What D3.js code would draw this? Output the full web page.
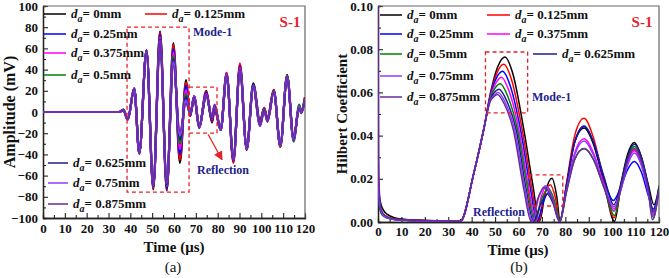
<!DOCTYPE html>
<html lang="en">
<head>
<meta charset="utf-8">
<title>S-1 amplitude and Hilbert coefficient</title>
<script src="https://cdn.jsdelivr.net/npm/d3@7"></script>
<style>
  body { margin: 0; background: #fff; }
  text { font-family: "Liberation Serif", "Times New Roman", serif; }
</style>
</head>
<body>
<script>
// size
var w = 669, h = 278;

// series names and colours
var depths = ["0mm", "0.125mm", "0.25mm", "0.375mm", "0.5mm", "0.625mm", "0.75mm", "0.875mm"];
var colors = ["#000000", "#ff0000", "#0000ff", "#ff00ff", "#008000", "#1c1c8c", "#8c3cff", "#6a2a9e"];

// (a) time samples (us) and amplitude (mV) per damage depth
var timeA = [0, 35, 36.8, 38.8, 41.8, 44.1, 47.4, 50.5, 53.6, 56.7, 59.7, 62.7, 65.5, 67.4, 69.3, 71.5, 74.8, 77.4, 78.6, 81.4, 84.1, 87.2, 90.2, 93.3, 96.3, 99.4, 101.3, 102.8, 105.7, 108.7, 111.8, 114.8, 117.3, 118.3, 120];
var amp0 = [0, 0, 2, -7, 22, -39, 58, -73, 76, -74, 65, -48, 30, -4, 14, -15, 20, -10, 3, -17, 37, -47, 44, -36, 27, -9, 4, -6, 21, -33, 35, -25, 4, 1, 14];
var amp1 = [0, 0, 2, -7, 22, -39, 58, -72, 75, -73, 63, -45, 28, -3, 15, -14, 19, -9, 3, -16, 37, -48, 46, -35, 26, -10, 4, -7, 21, -33, 34, -25, 5, 1, 14];
var amp2 = [0, 0, 2, -7, 22, -39, 58, -71, 73, -72, 59, -40, 25, -3, 15, -14, 18, -8, 4, -17, 36, -46, 43, -35, 26, -11, 3, -8, 20, -32, 34, -26, 5, 0, 12];
var amp3 = [0, 0, 2, -7, 22, -39, 58, -71, 71, -70, 56, -35, 21, -2, 15, -14, 17, -7, 5, -17, 36, -45, 42, -35, 25, -12, 3, -8, 20, -32, 34, -27, 6, 0, 11];
var amp4 = [0, 0, 2, -7, 22, -39, 58, -70, 69, -69, 53, -30, 17, -2, 14, -13, 15, -6, 6, -16, 35, -44, 41, -34, 25, -12, 3, -8, 20, -32, 34, -28, 7, 1, 13];
var amp5 = [0, 0, 2, -7, 22, -39, 58, -70, 68, -68, 50, -26, 14, -2, 15, -14, 16, -6, 6, -17, 35, -45, 41, -35, 24, -13, 2, -9, 19, -31, 33, -27, 5, -1, 12];
var amp6 = [0, 0, 2, -7, 22, -39, 58, -69, 67, -67, 47, -22, 11, -2, 15, -14, 16, -5, 7, -17, 35, -45, 41, -35, 24, -13, 2, -9, 19, -31, 33, -27, 5, -1, 12];
var amp7 = [0, 0, 2, -7, 22, -39, 58, -69, 66, -66, 44, -18, 8, -2, 14, -14, 16, -5, 7, -17, 35, -45, 41, -35, 24, -13, 2, -9, 19, -31, 33, -27, 4, -1, 12];

// (b) Hilbert coefficient, [time, value] per damage depth
var hb0 = [[0,0.02],[0.5,0.013],[1.2,0.0085],[2.3,0.0055],[4,0.0035],[7,0.002],[12,0.0012],[20,0.0008],[35.2,0.0004],[40.9,0.0225],[45.1,0.0426],[48,0.0595],[51,0.0715],[54.2,0.0764],[57.5,0.069],[62.3,0.0426],[66,0.018],[69,0.0003],[71.5,0.014],[74.3,0.0202],[76.3,0.012],[77.8,0.0003],[80.5,0.017],[84,0.037],[88,0.0435],[92,0.036],[96.5,0.018],[101,0.0003],[104,0.019],[106.5,0.031],[109.5,0.0368],[112.5,0.03],[115.5,0.017],[117.8,0.008],[120,0.016]];
var hb1 = [[0,0.025],[0.4,0.011],[1,0.0065],[2,0.004],[4,0.0024],[7,0.0014],[12,0.0009],[20,0.0006],[35.2,0.0004],[40.9,0.0225],[45.1,0.0426],[48,0.059],[50.8,0.069],[53.7,0.073],[57,0.066],[61.6,0.0426],[65.5,0.017],[68.5,0.0003],[71,0.012],[73.5,0.0172],[75.8,0.011],[77.7,0.0003],[80.5,0.018],[84,0.04],[88,0.048],[92,0.039],[96.5,0.019],[100.8,0.002],[104,0.018],[106.5,0.029],[109.5,0.0335],[112.5,0.027],[115.5,0.014],[117.5,0.004],[120,0.015]];
var hb2 = [[0,0.022],[0.4,0.01],[1,0.006],[2,0.0035],[4,0.002],[7,0.0012],[12,0.0008],[20,0.0005],[35.2,0.0003],[40.9,0.0225],[45.1,0.0426],[48,0.0585],[50.5,0.0665],[53.2,0.0698],[56.5,0.063],[60.9,0.0426],[65,0.016],[68,0.0003],[70.5,0.009],[72.8,0.0135],[75.3,0.009],[77.6,0.0003],[80.5,0.017],[84,0.037],[88,0.0442],[92,0.037],[96,0.022],[100.5,0.01],[104,0.017],[106.5,0.024],[109.5,0.028],[112.5,0.023],[115.5,0.012],[117.5,0.006],[120,0.014]];
var hb3 = [[0,0.03],[0.3,0.012],[0.9,0.0065],[2,0.0035],[4,0.002],[7,0.0012],[12,0.0008],[20,0.0005],[35.2,0.0003],[40.9,0.0225],[45.1,0.0426],[48,0.058],[50.2,0.064],[52.7,0.067],[56,0.0605],[60.2,0.0426],[64.3,0.016],[67.4,0.0003],[69.8,0.012],[72,0.0165],[75,0.01],[77.6,0.0003],[80.5,0.015],[84,0.032],[88,0.0385],[92,0.032],[96.5,0.017],[100.8,0.006],[104,0.016],[106.5,0.027],[109.5,0.033],[112.5,0.027],[115.5,0.014],[117.3,0.003],[120,0.015]];
var hb4 = [[0,0.02],[0.4,0.009],[1,0.005],[2,0.003],[4,0.0018],[7,0.0011],[12,0.0007],[20,0.0005],[35.2,0.0003],[40.9,0.0225],[45.1,0.0426],[48,0.0575],[50,0.062],[52.2,0.064],[55.5,0.058],[59.6,0.0426],[63.8,0.016],[66.9,0.0003],[70,0.011],[72.8,0.0155],[75.3,0.01],[77.7,0.0003],[80.5,0.014],[84,0.029],[88,0.034],[92,0.029],[96.5,0.016],[101,0.003],[104,0.018],[106.5,0.029],[109.5,0.035],[112.5,0.029],[115.5,0.015],[117.6,0.002],[120,0.017]];
var hb5 = [[0,0.025],[0.4,0.011],[1,0.006],[2,0.0035],[4,0.0021],[7,0.0013],[12,0.0008],[20,0.0005],[35.2,0.0003],[40.9,0.0225],[45.1,0.0426],[48,0.057],[49.7,0.06],[51.7,0.0615],[55,0.056],[59,0.0426],[63.3,0.015],[66.4,0.0003],[69.8,0.009],[72.3,0.013],[75,0.008],[77.6,0.0003],[80.5,0.017],[84,0.037],[88,0.0445],[92,0.037],[96.5,0.021],[100.7,0.008],[104,0.019],[106.5,0.03],[109.5,0.036],[112.5,0.03],[115.5,0.016],[117.5,0.005],[120,0.016]];
var hb6 = [[0,0.04],[0.3,0.014],[0.9,0.007],[2,0.0035],[4,0.002],[7,0.0012],[12,0.0008],[20,0.0005],[35.2,0.0003],[40.9,0.0225],[45.1,0.0426],[48,0.0565],[49.5,0.0585],[51.3,0.06],[54.5,0.055],[58.4,0.0426],[62.8,0.015],[65.9,0.0003],[68.8,0.012],[71.5,0.0168],[74.5,0.011],[77.5,0.0003],[80.5,0.015],[84,0.031],[88,0.0375],[92,0.031],[96.5,0.017],[100.7,0.007],[104,0.016],[106.5,0.026],[109.5,0.032],[112.5,0.026],[115.5,0.013],[117.3,0.003],[120,0.014]];
var hb7 = [[0,0.1],[0.25,0.03],[0.7,0.012],[1.5,0.0055],[3,0.003],[6,0.0016],[12,0.0009],[20,0.0006],[35.2,0.0003],[40.9,0.0225],[45.1,0.0426],[48,0.056],[49.3,0.0578],[50.9,0.059],[54,0.0545],[57.8,0.0426],[62.3,0.015],[65.4,0.0003],[68.3,0.011],[71,0.016],[74.2,0.011],[77.4,0.0003],[80.5,0.014],[84,0.029],[88,0.034],[92,0.029],[96.5,0.016],[100.8,0.005],[104,0.017],[106.5,0.028],[109.5,0.034],[112.5,0.028],[115.5,0.014],[117.2,0.001],[120,0.015]];

// tick values
var timeTicks = d3.range(0, 121, 10);
var timeMinor = d3.range(5, 120, 10);
var ampTicks = d3.range(-100, 101, 20);
var ampMinor = d3.range(-90, 100, 20);
var hbTicks = [0, 0.02, 0.04, 0.06, 0.08, 0.10];
var hbMinor = [0.01, 0.03, 0.05, 0.07, 0.09];

var ampSeries = [amp0, amp1, amp2, amp3, amp4, amp5, amp6, amp7];
var hbSeries = [hb0, hb1, hb2, hb3, hb4, hb5, hb6, hb7];

var svg = d3.select("body").append("svg")
    .attr("width", w)
    .attr("height", h);

svg.append("rect").attr("width", w).attr("height", h).attr("fill", "#fff");

//Scales
var xA = d3.scaleLinear().domain([0, 120]).range([43, 305]);
var yA = d3.scaleLinear().domain([-100, 100]).range([218, 6]);
var xB = d3.scaleLinear().domain([0, 120]).range([378, 659]);
var yB = d3.scaleLinear().domain([0, 0.1]).range([222, 6]);

var defs = svg.append("defs");
defs.append("clipPath").attr("id", "clipA").append("rect")
    .attr("x", xA(0)).attr("y", yA(100)).attr("width", xA(120) - xA(0)).attr("height", yA(-100) - yA(100));
defs.append("clipPath").attr("id", "clipB").append("rect")
    .attr("x", xB(0)).attr("y", yB(0.1)).attr("width", xB(120) - xB(0)).attr("height", yB(0) - yB(0.1));
defs.append("marker").attr("id", "arrow")
    .attr("viewBox", "0 0 10 10").attr("refX", 9).attr("refY", 5)
    .attr("markerWidth", 7).attr("markerHeight", 7).attr("orient", "auto")
    .append("path").attr("d", "M0,0L10,5L0,10z").attr("fill", "#e8202a");

function drawAxes(x, y, yt, ymin, yfmt, labelPad) {
    var g = svg.append("g");
    g.append("g").attr("transform", "translate(0," + y.range()[0] + ")")
        .call(d3.axisBottom(x).tickValues(timeTicks).tickSize(-5).tickSizeOuter(0).tickPadding(labelPad));
    g.append("g").attr("transform", "translate(0," + y.range()[0] + ")")
        .call(d3.axisBottom(x).tickValues(timeMinor).tickSize(-3).tickFormat(""));
    g.append("g").attr("transform", "translate(" + x.range()[0] + ",0)")
        .call(d3.axisLeft(y).tickValues(yt).tickSize(-5).tickSizeOuter(0).tickPadding(5).tickFormat(yfmt));
    g.append("g").attr("transform", "translate(" + x.range()[0] + ",0)")
        .call(d3.axisLeft(y).tickValues(ymin).tickSize(-3).tickFormat(""));
    g.selectAll(".domain").attr("stroke", "#222").attr("stroke-width", 1.3);
    g.selectAll(".tick line").attr("stroke", "#222").attr("stroke-width", 1.1);
    g.selectAll("text").attr("font-size", 13).attr("font-weight", "bold")
        .attr("font-family", "'Liberation Serif', serif").attr("fill", "#111");
    // top and right frame
    svg.append("path")
        .attr("d", "M" + x.range()[0] + "," + y.range()[1] + "H" + x.range()[1] + "V" + y.range()[0])
        .attr("fill", "none").attr("stroke", "#666").attr("stroke-width", 1.2);
}

drawAxes(xA, yA, ampTicks, ampMinor, d3.format("d"), 6);
drawAxes(xB, yB, hbTicks, hbMinor, d3.format(".2f"), 5);

// waveforms (a)
var lineA = d3.line()
    .x(function(d) { return xA(d[0]); })
    .y(function(d) { return yA(d[1]); })
    .curve(d3.curveMonotoneX);
svg.append("g").attr("clip-path", "url(#clipA)")
    .selectAll("path")
    .data(ampSeries)
    .enter()
    .append("path")
    .attr("d", function(d) { return lineA(d.map(function(v, i) { return [timeA[i], v]; })); })
    .attr("fill", "none")
    .attr("stroke", function(d, i) { return colors[i]; })
    .attr("stroke-width", function(d, i) { return i === 7 ? 1.7 : 2.2; });

// hilbert (b)
var lineB = d3.line()
    .x(function(d) { return xB(d[0]); })
    .y(function(d) { return yB(d[1]); })
    .curve(d3.curveMonotoneX);
svg.append("g").attr("clip-path", "url(#clipB)")
    .selectAll("path")
    .data(hbSeries)
    .enter()
    .append("path")
    .attr("d", lineB)
    .attr("fill", "none")
    .attr("stroke", function(d, i) { return colors[i]; })
    .attr("stroke-width", 1.5);

// red dashed boxes
function box(x, y, t0, t1, v0, v1) {
    svg.append("rect")
        .attr("x", x(t0)).attr("y", y(v1))
        .attr("width", x(t1) - x(t0)).attr("height", y(v0) - y(v1))
        .attr("fill", "none").attr("stroke", "#e8202a")
        .attr("stroke-width", 1.3).attr("stroke-dasharray", "4,3");
}
box(xA, yA, 38.5, 66.9, -75.5, 80);
box(xA, yA, 66.9, 79.7, -20, 23.5);
box(xB, yB, 45.9, 63.9, 0.0505, 0.0787);
box(xB, yB, 64.3, 78.9, 0.0074, 0.0218);

svg.append("line")
    .attr("x1", xA(75.6)).attr("y1", yA(-21))
    .attr("x2", xA(82)).attr("y2", yA(-45))
    .attr("stroke", "#e8202a").attr("stroke-width", 1.3)
    .attr("marker-end", "url(#arrow)");

// annotations
function note(x, y, s, color, size, anchor) {
    svg.append("text").attr("x", x).attr("y", y)
        .attr("font-size", size).attr("font-weight", "bold")
        .attr("fill", color).attr("text-anchor", anchor || "start").text(s);
}
note(290, 27, "S-1", "#e8202a", 15, "middle");
note(642, 27, "S-1", "#e8202a", 15, "middle");
note(193, 36, "Mode-1", "#22228c", 12);
note(532, 101, "Mode-1", "#22228c", 12);
note(197, 174, "Reflection", "#22228c", 12);
note(473, 216, "Reflection", "#22228c", 12);

// axis titles
note(174, 252, "Time (\u03bcs)", "#111", 15, "middle");
note(518, 255, "Time (\u03bcs)", "#111", 15, "middle");
svg.append("text").attr("transform", "translate(15,112) rotate(-90)")
    .attr("text-anchor", "middle").attr("font-size", 16).attr("font-weight", "bold")
    .attr("fill", "#111").text("Amplitude (mV)");
svg.append("text").attr("transform", "translate(347,114) rotate(-90)")
    .attr("text-anchor", "middle").attr("font-size", 15).attr("font-weight", "bold")
    .attr("fill", "#111").text("Hilbert Coefficient");
svg.append("text").attr("x", 173).attr("y", 272).attr("text-anchor", "middle")
    .attr("font-size", 15).attr("fill", "#111").text("(a)");
svg.append("text").attr("x", 519).attr("y", 272).attr("text-anchor", "middle")
    .attr("font-size", 15).attr("fill", "#111").text("(b)");

// legends: [series, line x0, line x1, row y]
var legendA = [[0, 44, 66, 14], [1, 145, 167, 14], [2, 44, 66, 34], [3, 44, 66, 53], [4, 44, 66, 75],
               [5, 48, 68, 163], [6, 48, 68, 183], [7, 48, 68, 204]];
var legendB = [[0, 380, 402, 15], [1, 487, 510, 15], [2, 380, 402, 34], [3, 487, 510, 34],
               [4, 380, 402, 54], [5, 533, 557, 54], [6, 380, 402, 76], [7, 380, 402, 97]];

function legend(items) {
    items.forEach(function(it) {
        var g = svg.append("g");
        g.append("line").attr("x1", it[1]).attr("x2", it[2]).attr("y1", it[3]).attr("y2", it[3])
            .attr("stroke", colors[it[0]]).attr("stroke-width", 1.5);
        var t = g.append("text").attr("x", it[2] + 5).attr("y", it[3] + 4)
            .attr("font-size", 13).attr("font-weight", "bold").attr("fill", "#111");
        t.append("tspan").attr("font-style", "italic").text("d");
        t.append("tspan").attr("font-style", "italic").attr("font-size", 10).attr("dy", 4).text("a");
        t.append("tspan").attr("dy", -4).text("= " + depths[it[0]]);
    });
}
legend(legendA);
legend(legendB);
</script>
</body>
</html>
